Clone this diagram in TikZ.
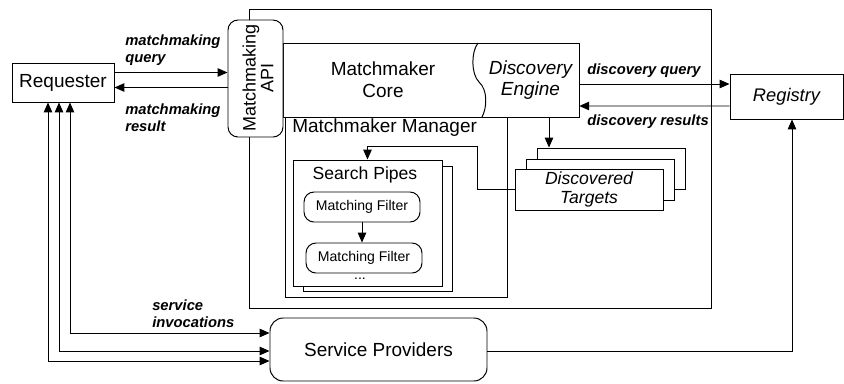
\documentclass[tikz,border=0pt]{standalone}
\usepackage{fontspec}
\setmainfont{Liberation Sans}
\usetikzlibrary{calc,arrows.meta}
\def\dpx{0.025cm}
\tikzset{
	box/.style={draw, line width=0.7pt, inner sep=0pt, fill=white},
	rbox/.style={box, rounded corners=0.25cm},
	lbl/.style={font=\fontsize{10.5}{12}\selectfont\bfseries\itshape, align=left, inner sep=0pt},
	arr/.style={-{Triangle[length=7pt,width=6pt]}, line width=0.7pt},
	darr/.style={{Triangle[length=7pt,width=6pt]}-{Triangle[length=7pt,width=6pt]}, line width=0.7pt},
}

\begin{document}
\begin{tikzpicture}[x=\dpx, y=-\dpx, font=\fontsize{13.5}{15.5}\selectfont]
				\useasboundingbox (0,0) rectangle (844,383);
				
				\node[box, minimum width=462*\dpx, minimum height=299*\dpx] (mm) at (480,158.5) {};
				
				\node[box, minimum width=296*\dpx, minimum height=74*\dpx] (core) at (431,80) {};
				\node[align=center] (coretxt) at (383,80) {Matchmaker\\Core};
				\node[align=center, font=\fontsize{13.5}{15.5}\selectfont\itshape, minimum width=97*\dpx, minimum height=74*\dpx] (disc) at (530.5,80) {Discovery\\Engine};
				\draw[line width=0.7pt] (478,43) .. controls (471,52) and (471,74) .. (479,82) .. controls (488,90) and (487,108) .. (482,117);
				
				\node[rbox, minimum width=55*\dpx, minimum height=117*\dpx] (api) at (255.5,78.5) {};
				\node[rotate=90, align=center, font=\fontsize{12.8}{12.5}\selectfont] (apitxt) at (258,78) {Matchmaking\\API};
				
				\node[box, minimum width=222*\dpx, minimum height=180*\dpx] (mgr) at (396,207) {};
				\node[anchor=west, inner sep=0pt] (mgrtxt) at (292,128) {Matchmaker Manager};
				
				\node[box, minimum width=149*\dpx, minimum height=125*\dpx] (sp2) at (377.5,228.5) {};
				\node[box, minimum width=149*\dpx, minimum height=126*\dpx] (sp) at (367.5,223) {};
				\node[font=\fontsize{12.5}{14}\selectfont] (sptxt) at (365,175) {Search Pipes};
				\node[rbox, minimum width=116*\dpx, minimum height=30*\dpx, font=\fontsize{10}{12}\selectfont] (mf1) at (362,207) {Matching Filter};
				\node[rbox, minimum width=116*\dpx, minimum height=30*\dpx, font=\fontsize{10}{12}\selectfont] (mf2) at (364,258) {Matching Filter};
				\node[font=\fontsize{10}{12}\selectfont, inner sep=0pt] (dots) at (360,279) {...};
				\draw[arr] (mf1.south) -- (mf1.south |- mf2.north);
				
				\node[box, minimum width=148*\dpx, minimum height=41*\dpx] (dt3) at (611,168.5) {};
				\node[box, minimum width=148*\dpx, minimum height=41*\dpx] (dt2) at (600,179.5) {};
				\node[box, minimum width=148*\dpx, minimum height=41*\dpx, align=center, font=\fontsize{12.5}{14}\selectfont\itshape] (dt1) at (589,189.5) {Discovered\\Targets};
				\coordinate (dtin) at ($(disc.south)+(18.5,0)$);
				\draw[arr] (dtin) -- (dtin |- dt3.north);
				\coordinate (fb) at (477,146);
				\draw[arr] (dt1.west) -| (fb) -| (sp.north);
				
				\node[box, minimum width=102*\dpx, minimum height=39*\dpx] (req) at (63,82.5) {Requester};
				\node[box, minimum width=113*\dpx, minimum height=45*\dpx, font=\fontsize{13}{15}\selectfont\itshape] (reg) at (786.5,96.5) {Registry};
				\node[box, rounded corners=0.33cm, minimum width=217*\dpx, minimum height=63*\dpx] (prov) at (378.5,349.5) {Service Providers};
				
				\draw[arr] ($(req.east)+(0,-10)$) -- ($(api.west)+(0,-6)$);
				\draw[arr] ($(api.west)+(0,9)$) -- ($(req.east)+(0,5)$);
				\draw[arr] ($(disc.east)+(0,4)$) -- ($(reg.west)+(0,-12.5)$);
				\draw[arr] ($(reg.west)+(0,9.5)$) -- ($(disc.east)+(0,26)$);
				\foreach \dx/\dy in {7/-16.5, -4/1.5, -15/11.5}
					\draw[darr] ($(req.south)+(\dx,0)$) |- ($(prov.west)+(0,\dy)$);
				\draw[arr] ($(prov.east)+(0,1.5)$) -| ($(reg.south)+(5.5,0)$);
				
				\node[lbl, anchor=west] (mq) at (125,50) {matchmaking\\query};
				\node[lbl, anchor=west] (mr) at (125,117.5) {matchmaking\\result};
				\node[lbl, anchor=west] (dq) at (587,71) {discovery query};
				\node[lbl, anchor=west] (dr) at (587,122) {discovery results};
				\node[lbl, anchor=west] (si) at (152,314) {service\\invocations};
\end{tikzpicture}
\end{document}
